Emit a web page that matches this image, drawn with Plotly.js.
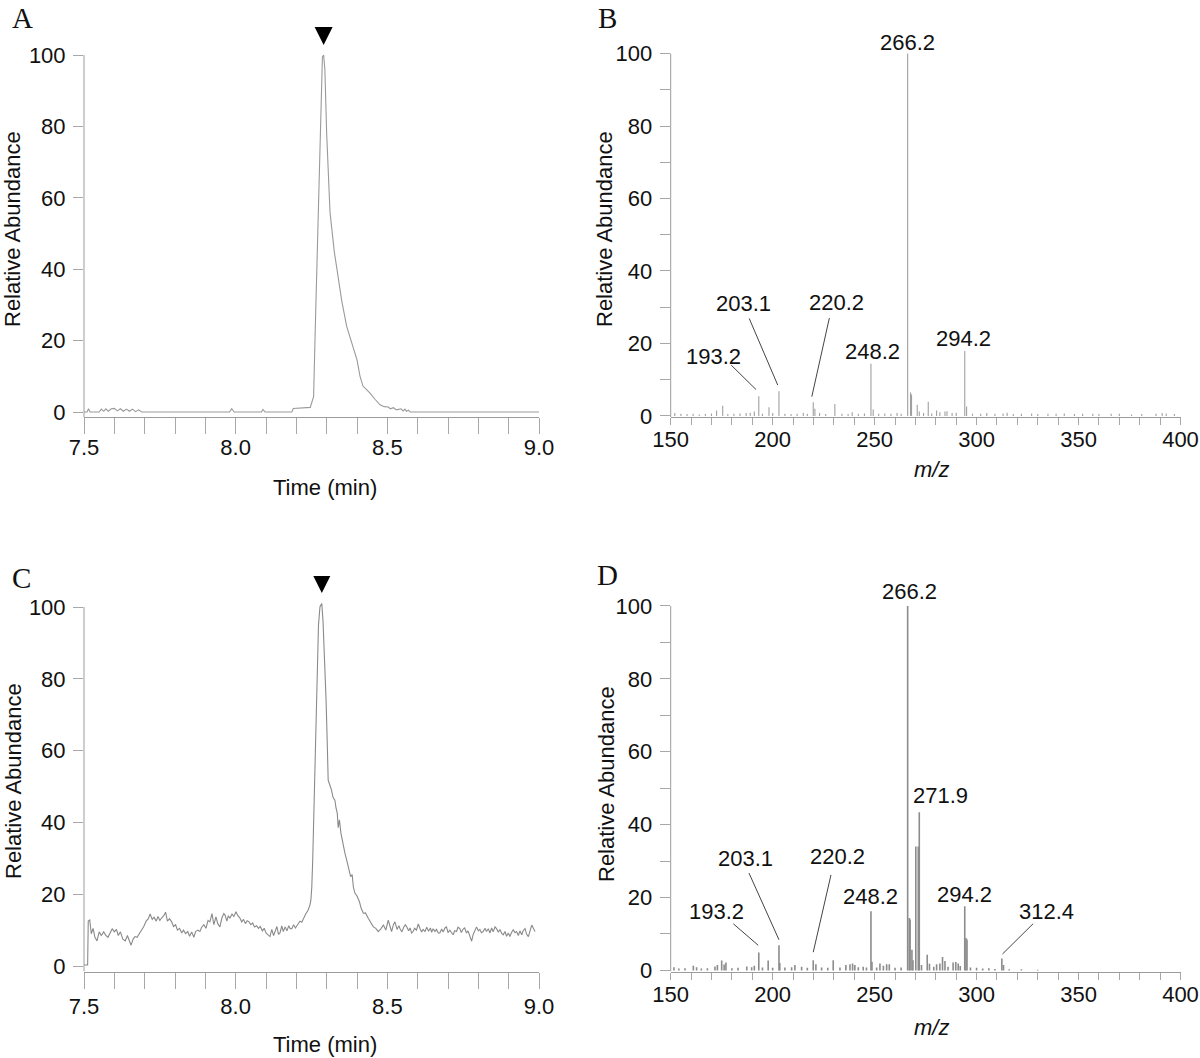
<!DOCTYPE html>
<html>
<head>
<meta charset="utf-8">
<script src="https://cdn.plot.ly/plotly-3.0.1.min.js"></script>
<style>html,body{margin:0;padding:0;background:#fff;}#chart{width:1200px;height:1058px;}</style>
</head>
<body>
<div id="chart"></div>
<script>
// ---------- Data ----------
// Panel A: chromatogram (time in min, relative abundance)
const tA = [7.500,7.510,7.515,7.520,7.550,7.557,7.565,7.572,7.580,7.590,7.600,7.610,7.620,7.630,7.640,7.650,7.660,7.670,7.680,7.690,
  7.980,7.987,7.995,8.085,8.090,8.097,8.185,8.190,8.246,8.252,8.257,8.262,8.270,8.279,8.286,8.290,8.294,8.300,8.311,8.325,8.339,
  8.350,8.366,8.383,8.400,8.410,8.420,8.430,8.443,8.460,8.476,8.490,8.503,8.510,8.520,8.530,8.545,8.552,8.558,8.563,8.570,8.575,9.000];
const vA = [0,0,0.9,0,0,0.8,0.2,0.9,0.2,0.9,1.0,0.3,0.9,0.2,0.8,0.2,0.8,0.1,0.6,0,
  0,0.9,0,0,0.7,0,0,1.0,1.3,3,4.4,22,50,78,99.5,100,96,78,56,45,37,
  31,24,19,14.6,10,7.2,6.4,5.3,3.5,2,1.5,1.4,0.9,1.2,0.6,0.9,0.3,0.8,0.2,0.5,0,0];

// Panel C: chromatogram
const tC = [7.500,7.512,7.514,7.519,7.524,7.530,7.536,7.543,7.550,7.557,7.565,7.572,7.579,7.587,7.593,7.600,7.607,7.613,7.620,7.628,7.636,7.643,7.650,7.655,7.662,7.668,7.675,7.683,7.690,7.697,
  7.705,7.712,7.718,7.725,7.731,7.738,7.744,7.750,7.757,7.763,7.769,7.775,7.782,7.789,7.795,7.802,7.808,7.815,7.822,7.828,7.835,7.842,7.848,7.855,7.862,7.868,7.875,7.882,7.888,7.895,
  7.902,7.909,7.915,7.922,7.928,7.935,7.941,7.948,7.955,7.961,7.965,7.971,7.976,7.981,7.988,7.994,8.001,8.007,8.013,8.020,8.026,8.032,8.038,8.044,8.050,8.056,8.062,8.069,8.075,8.081,
  8.088,8.094,8.100,8.106,8.113,8.119,8.125,8.130,8.136,8.141,8.146,8.152,8.157,8.163,8.169,8.175,8.180,8.185,8.191,8.197,8.202,8.206,8.212,8.218,8.223,8.231,8.239,8.245,8.248,8.251,
  8.254,8.258,8.261,8.265,8.269,8.273,8.278,8.284,8.288,8.291,8.295,8.298,8.302,8.305,8.310,8.316,8.321,8.327,8.331,8.335,8.338,8.342,8.347,8.353,8.360,8.366,8.372,8.379,8.384,8.388,
  8.393,8.400,8.408,8.414,8.421,8.428,8.437,8.445,8.454,8.462,8.470,8.478,8.487,8.495,8.503,8.509,8.514,8.520,8.525,8.532,8.538,8.542,8.548,8.554,8.559,8.564,8.570,8.575,8.580,8.585,
  8.590,8.596,8.602,8.608,8.613,8.618,8.624,8.630,8.636,8.642,8.646,8.651,8.657,8.662,8.668,8.673,8.679,8.684,8.690,8.695,8.700,8.706,8.711,8.717,8.722,8.728,8.733,8.739,8.744,8.750,
  8.755,8.761,8.766,8.772,8.778,8.783,8.788,8.794,8.800,8.805,8.810,8.816,8.822,8.827,8.833,8.838,8.844,8.849,8.855,8.860,8.866,8.871,8.877,8.882,8.888,8.893,8.899,8.904,8.910,8.915,
  8.921,8.926,8.932,8.937,8.943,8.948,8.954,8.959,8.965,8.970,8.976,8.981,8.987];
const vC = [0.3,0.3,12.5,12.8,9,10.5,8,7,9.5,8.5,9.5,8.5,8,9.5,10.4,9.5,10.2,8.5,9.5,7.5,7,8.5,6.5,5.8,7.5,8.2,8,9,10,11,
  12.5,13.2,14.5,13,13.6,12.5,13.8,12.7,13.5,14,15,12.5,13.2,12.3,11,11.5,10,10.5,9.2,10,9,9.6,8.3,9.5,8,9.6,10,9.6,10.8,11.5,
  10.5,12.7,12.3,14.6,11.5,13.7,11.8,10.9,13.5,14.6,14.2,12.5,14,13.3,14.5,13.8,15.1,14,13.5,12.3,13,11.8,12.6,12.3,11.5,12,10.9,11.2,10.5,11,
  9.8,10.5,9.2,8.6,8.2,10.2,8.5,9.6,11,8.8,9.2,11.2,9.6,10.9,9.8,11.2,10.4,10.4,11.5,10.6,11.2,11.7,12.5,12.2,13.3,14.5,15.6,17,18.4,22,
  29.5,45,57.4,73,87.1,95,100.1,101,96,89.9,82,74.1,62,51.8,50.5,49,47,46.2,44,42.5,38.5,40.7,37,34.2,31.5,29.5,27.5,24.9,25.5,22,
  20.3,19.5,17.9,16,14.7,14.8,13.3,12,10.9,10.5,9.6,10.3,11.4,10,12.8,11,9.6,11.5,12.3,10.2,11.2,10.4,9.5,10.8,11.5,10.9,9.8,10.6,9.2,9.6,
  10.5,10,11.7,10.4,9.5,10.2,9.6,10.8,9.7,10.6,9.4,10.4,9.6,10.2,9.2,9.2,10.3,9.5,10.6,10.9,9.3,10,9.4,8.7,9.8,9.6,10.8,10.4,9.3,10.3,
  10.6,9.2,9.8,8.4,6.9,8.8,9.6,10.9,9.8,10.2,9.3,9.6,10.5,9.6,10.4,9.2,10.6,9.5,10.9,10.4,9.4,10.2,9.1,8.7,9.6,8.3,9.2,8.2,9.4,10.1,
  9.3,9.6,8.5,9.8,8.7,9.9,10.4,8.9,8.2,9.4,11.4,10.6,9.6];

// Panel B: MS/MS spectrum (m/z, relative abundance)
const mzB = [152,155,158,161,164,167,170,172.5,175.5,178,181,184,187,189,191,193.2,195,198.2,200,203.1,206,209,212,215,217,219.9,220.7,223,226,
  230.5,234,237,239,242,245,248.2,249.3,252,255,258,261,263,266.2,267.6,268.1,270.9,271.9,274,276.3,278,280.4,282,284.5,285.5,288,290,294.2,295.1,
  298,302,305,309,313,315,318,322,327,330,335,339,343,348,352,357,360,366,370,376,381,388,391,393,397];
const intB = [0.8,0.6,0.5,0.6,0.4,0.5,0.7,1.5,2.8,0.5,0.6,0.7,0.8,0.9,1.2,5.4,0.6,2.4,0.8,6.8,0.6,0.5,0.6,0.9,0.6,3.8,2.0,0.8,0.5,
  3.3,0.6,0.5,1.0,0.6,0.7,14.4,1.8,0.6,0.7,0.6,0.8,0.6,100,6.5,5.9,3.1,1.2,0.8,3.9,0.7,1.5,1.0,1.2,1.3,0.8,0.9,17.9,2.6,
  0.6,0.6,0.8,0.6,0.7,0.9,0.5,0.6,0.7,0.5,0.6,0.6,0.7,0.5,0.6,0.6,0.5,0.6,0.6,0.4,0.5,0.6,0.8,0.7,0.5];

// Panel D: MS/MS spectrum
const mzD = [151.6,154,157,161.1,162.7,165,168,171.7,172.9,175,176.2,177.1,180,183,187.3,189.7,191,193.2,195,197.8,200,203.1,203.5,206,209.3,210.9,214.2,217,219.9,221.2,
  224,227,229.7,233,235.9,237.9,239.2,240.3,242,244.4,246,248.2,248.7,251,252.6,254.3,255.9,257.2,260,263,266.2,267.0,267.4,268.3,268.8,270.2,271.4,271.9,273,275.8,
  276.9,279,280.4,282,283.3,284.5,286,288.5,289.8,291,292,294.2,294.8,295.3,297,300,303,306,309,312.4,313.2,316,322,330];
const intD = [0.9,0.5,0.6,1.3,0.9,0.5,0.6,1.1,1.5,2.7,1.6,2.2,0.6,0.7,1.1,0.9,1.3,4.9,0.8,2.7,0.7,6.9,2.0,0.8,0.9,1.5,1.0,0.7,2.8,1.7,
  0.8,0.7,2.8,0.8,1.5,1.7,1.9,1.5,0.9,1.0,0.8,16.2,2.4,0.8,1.9,1.3,1.7,1.7,0.7,0.8,100,14.4,14,5.7,2.8,34,34,43.4,1.5,4.3,
  1.8,1.0,1.7,1.9,3.7,2.6,1.0,2.2,2.3,1.9,1.2,17.6,8.9,8.5,0.8,0.7,0.5,0.6,0.4,3.3,1.5,0.3,0.3,0.2];

// Peak labels
const peakLabelsB = ['193.2','203.1','220.2','248.2','266.2','294.2'];
const peakLabelsD = ['193.2','203.1','220.2','248.2','266.2','271.9','294.2','312.4'];

// ---------- Styling / layout helpers ----------
const W = 1200, H = 1058;
const px = v => v / W;
const py = v => 1 - v / H;
const FONT = 'Liberation Sans, Arial, Helvetica, sans-serif';
const SERIF = 'Liberation Serif, Times New Roman, serif';
const AXC = '#9c9c9c';
const TKC = '#a8a8a8';

function sticks(mz, inten) {
  const x = [], y = [];
  mz.forEach((m, i) => { x.push(m, m, null); y.push(0, inten[i], null); });
  return {x, y};
}
function argmax(arr) { let k = 0; arr.forEach((v, i) => { if (v > arr[k]) k = i; }); return k; }

const sB = sticks(mzB, intB), sD = sticks(mzD, intD);
const kA = argmax(vA), kC = argmax(vC);

const traces = [
  {x: tA, y: vA, xaxis: 'x', yaxis: 'y', type: 'scatter', mode: 'lines', line: {color: '#9a9a9a', width: 1.1}, hoverinfo: 'skip'},
  {x: sB.x, y: sB.y, xaxis: 'x2', yaxis: 'y2', type: 'scatter', mode: 'lines', line: {color: '#a0a0a0', width: 1.1}, hoverinfo: 'skip'},
  {x: tC, y: vC, xaxis: 'x3', yaxis: 'y3', type: 'scatter', mode: 'lines', line: {color: '#8a8a8a', width: 1.1}, hoverinfo: 'skip'},
  {x: sD.x, y: sD.y, xaxis: 'x4', yaxis: 'y4', type: 'scatter', mode: 'lines', line: {color: '#8c8c8c', width: 1.6}, hoverinfo: 'skip'},
  // peak markers (downward triangles, tip just above the apex)
  {x: [tA[kA]], y: [102.8], xaxis: 'x', yaxis: 'y', type: 'scatter', mode: 'markers', marker: {symbol: 'arrow-down', size: 18, color: '#000', line: {width: 0}}, hoverinfo: 'skip'},
  {x: [tC[kC]], y: [103.9], xaxis: 'x3', yaxis: 'y3', type: 'scatter', mode: 'markers', marker: {symbol: 'arrow-down', size: 17, color: '#000', line: {width: 0}}, hoverinfo: 'skip'}
];

const tickfont = {family: FONT, size: 22, color: '#111'};
function timeAxis(dom, anchor, standoff) {
  return {domain: dom, anchor: anchor, range: [7.5, 9.0], tick0: 7.5, dtick: 0.5, tickformat: '.1f',
    showline: true, linecolor: AXC, linewidth: 1, ticks: 'outside', ticklen: 16, tickcolor: TKC, tickwidth: 1,
    minor: {dtick: 0.1, tick0: 7.5, ticks: 'outside', ticklen: 16, tickcolor: TKC, tickwidth: 1, showgrid: false},
    showgrid: false, zeroline: false, tickfont: tickfont, ticklabelstandoff: standoff, fixedrange: true};
}
function mzAxis(dom, anchor, standoff) {
  return {domain: dom, anchor: anchor, range: [150, 400], tick0: 150, dtick: 50,
    showline: true, linecolor: AXC, linewidth: 1, ticks: 'outside', ticklen: 7, tickcolor: TKC, tickwidth: 1,
    minor: {dtick: 10, tick0: 150, ticks: 'outside', ticklen: 7, tickcolor: TKC, tickwidth: 1, showgrid: false},
    showgrid: false, zeroline: false, tickfont: tickfont, ticklabelstandoff: standoff, fixedrange: true};
}
function abAxis(dom, anchor, lo, hi, minor) {
  const a = {domain: dom, anchor: anchor, range: [lo, hi], tick0: 0, dtick: 20,
    showline: false, ticks: 'outside', ticklen: 10, tickcolor: TKC, tickwidth: 1,
    showgrid: false, zeroline: false, tickfont: tickfont, ticklabelstandoff: 3, fixedrange: true};
  if (minor) a.minor = {dtick: 10, tick0: 0, ticks: 'outside', ticklen: 10, tickcolor: TKC, tickwidth: 1, showgrid: false};
  return a;
}

// text positions for peak labels (m/z, abundance of label centre) and leader lines
const labelPosB = {
  '193.2': {tx: 171.0, ty: 16.5, lead: [179.7, 14.0, 191.8, 7.3]},
  '203.1': {tx: 185.6, ty: 31.0, lead: [188.5, 26.9, 202.5, 8.5]},
  '220.2': {tx: 231.1, ty: 31.3, lead: [227.8, 27.0, 219.2, 5.3]},
  '248.2': {tx: 248.8, ty: 17.7},
  '266.2': {tx: 266.2, ty: 103.0},
  '294.2': {tx: 293.4, ty: 21.4}
};
const labelPosD = {
  '193.2': {tx: 172.5, ty: 16.2, lead: [180.7, 12.8, 192.9, 6.9]},
  '203.1': {tx: 186.8, ty: 30.8, lead: [188.4, 26.7, 203.1, 8.4]},
  '220.2': {tx: 231.9, ty: 31.3, lead: [228.6, 26.2, 219.9, 5.0]},
  '248.2': {tx: 248.0, ty: 20.3},
  '266.2': {tx: 267.3, ty: 103.9},
  '271.9': {tx: 282.5, ty: 47.9},
  '294.2': {tx: 293.9, ty: 20.8},
  '312.4': {tx: 334.3, ty: 16.2, lead: [327.7, 12.8, 312.7, 4.5]}
};

const annotations = [];
const shapes = [];
function addLabels(labels, pos, xr, yr) {
  labels.forEach(l => {
    const p = pos[l];
    annotations.push({text: l, x: p.tx, y: p.ty, xref: xr, yref: yr, showarrow: false,
      xanchor: 'center', yanchor: 'middle', font: {family: FONT, size: 22, color: '#111'}});
    if (p.lead) shapes.push({type: 'line', xref: xr, yref: yr, x0: p.lead[0], y0: p.lead[1], x1: p.lead[2], y1: p.lead[3],
      line: {color: '#444', width: 1}});
  });
}
addLabels(peakLabelsB, labelPosB, 'x2', 'y2');
addLabels(peakLabelsD, labelPosD, 'x4', 'y4');

// y-axis lines (from range bottom up to 100 only)
[['x', 'y', -1.4], ['x2', 'y2', -0.3], ['x3', 'y3', -1.53], ['x4', 'y4', -0.3]].forEach(a => {
  shapes.push({type: 'line', xref: a[0] + ' domain', yref: a[1], x0: 0, x1: 0, y0: a[2], y1: 100,
    line: {color: AXC, width: 1}});
});

function paperText(text, x, y, opts) {
  annotations.push(Object.assign({text: text, x: px(x), y: py(y), xref: 'paper', yref: 'paper', showarrow: false,
    xanchor: 'center', yanchor: 'middle', font: {family: FONT, size: 22, color: '#111'}}, opts || {}));
}
// panel letters
['A', 'B', 'C', 'D'].forEach((L, i) => {
  const pos = [[22, 18], [607, 18], [21, 578], [607, 575]][i];
  paperText(L, pos[0], pos[1], {font: {family: SERIF, size: 29, color: '#111'}});
});
// axis titles
paperText('Time (min)', 325, 487);
paperText('Time (min)', 325, 1044);
paperText('<i>m/z</i>', 932, 469);
paperText('<i>m/z</i>', 932, 1027);
paperText('Relative Abundance', 13, 229, {textangle: -90});
paperText('Relative Abundance', 605, 229, {textangle: -90});
paperText('Relative Abundance', 13, 781, {textangle: -90});
paperText('Relative Abundance', 606, 784, {textangle: -90});

const layout = {
  width: W, height: H, margin: {l: 0, r: 0, t: 0, b: 0}, paper_bgcolor: '#fff', plot_bgcolor: 'rgba(0,0,0,0)',
  showlegend: false, hovermode: false,
  xaxis: timeAxis([px(84), px(539)], 'y', -5),
  yaxis: abAxis([py(417), py(22.9)], 'x', -1.4, 109, false),
  xaxis2: mzAxis([px(670.7), px(1180.5)], 'y2', -4),
  yaxis2: abAxis([py(417), py(31.8)], 'x2', -0.3, 106, true),
  xaxis3: timeAxis([px(84), px(539)], 'y3', -1),
  yaxis3: abAxis([py(971.5), py(574.7)], 'x3', -1.53, 109, false),
  xaxis4: mzAxis([px(670.7), px(1180.5)], 'y4', -4),
  yaxis4: abAxis([py(971.5), py(584.1)], 'x4', -0.3, 106, true),
  annotations: annotations, shapes: shapes
};

Plotly.newPlot('chart', traces, layout, {staticPlot: true, displayModeBar: false});
</script>
</body>
</html>
